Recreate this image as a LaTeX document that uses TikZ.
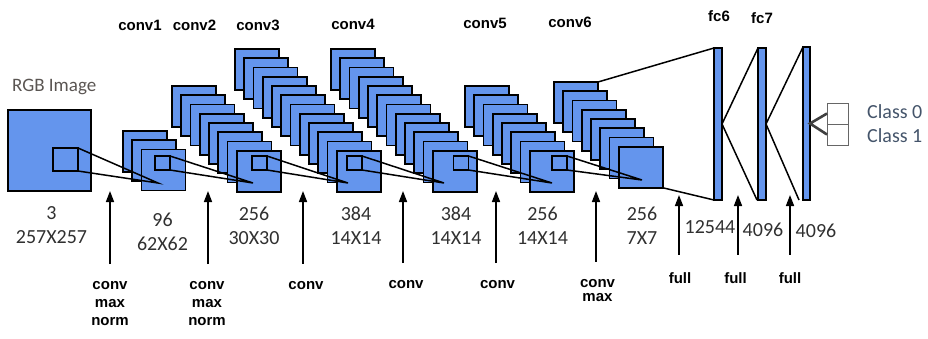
\documentclass[tikz,border=0pt]{standalone}
\usepackage{fontspec}
\newfontfamily\calfont{Carlito}
\newfontfamily\arialfont{Liberation Sans}
\usetikzlibrary{arrows.meta}
\definecolor{mapblue}{HTML}{6495ED}
\definecolor{dimgray}{HTML}{303030}
\definecolor{classblue}{HTML}{44546A}
\definecolor{rgbgray}{HTML}{5A5552}
\newcommand\headfont{\arialfont\bfseries\fontsize{15}{18}\selectfont}
\newcommand\dimfont{\calfont\fontsize{20}{24}\selectfont}

\begin{document}
\begin{tikzpicture}[
  x=1pt, y=-1pt,
  fmap/.style={draw, line width=1.8pt, fill=mapblue, minimum width=44pt, minimum height=41pt, inner sep=0pt, outer sep=0pt, anchor=north west},
  kern/.style={draw, line width=1.6pt, inner sep=0pt, outer sep=0pt},
  fcbar/.style={draw, line width=1.8pt, fill=mapblue, minimum width=8pt, minimum height=152pt, inner sep=0pt, outer sep=0pt, anchor=north west},
  cbox/.style={draw=black!60, line width=0.8pt, fill=white, minimum size=21pt, inner sep=0pt, outer sep=0pt, anchor=north west},
  link/.style={line width=1.5pt},
  lname/.style={font=\headfont, anchor=base, inner sep=0pt},
  opname/.style={font=\headfont, align=center, anchor=base, inner sep=0pt},
  dims/.style={font=\dimfont, text=dimgray, align=center, anchor=base, inner sep=0pt},
  up/.style={-{Triangle[length=11pt,width=8pt]}, line width=1.6pt, shorten <=17pt}
]
\useasboundingbox (0,0) rectangle (928,338);

% input image
\node[fmap, minimum width=83pt, minimum height=81pt] (img) at (8,110) {};
\node[font=\calfont\fontsize{19}{23}\selectfont, text=rgbgray, anchor=base west, inner sep=0pt] (rgb) at (12,91.7) {RGB Image};
\node[kern, minimum width=25pt, minimum height=23pt] (k0) at (65.5,159.5) {};

% feature map stacks
\foreach \lay/\bx/\by/\n in {conv1/123/131/3, conv2/172/86/8, conv3/235/49/12, conv4/331/49/12, conv5/465/86/8, conv6/554/82/8}
  \foreach \i in {1,...,\n}
    \node[fmap] (\lay-\i) at ({\bx+(\i-1)*9.25},{\by+(\i-1)*9.25}) {};

% kernels and their targets
\foreach \k/\cx in {1/162.5, 2/259.5, 3/354.5, 4/461, 5/559.5}
  \node[kern, minimum width=15pt, minimum height=14pt] (k\k) at (\cx,163) {};
\foreach \p/\px/\py in {1/158/183, 2/253/183, 3/348/183, 4/444/183, 5/552/183, 6/642/180}
  \coordinate (p\p) at (\px,\py);
\foreach \k [evaluate=\k as \nx using int(\k+1)] in {0,...,5}
  \draw[link] (k\k.north east) -- (p\nx) -- (k\k.south east);

% fully connected layers
\node[fcbar] (fc6) at (714,48) {};
\node[fcbar] (fc7) at (758,48) {};
\node[fcbar, minimum width=7pt, minimum height=153pt] (fc8) at (803,47) {};
\draw[link] (conv6-1.north east) -- (fc6.north west);
\draw[link] (conv6-8.south east) -- (fc6.south west);
\draw[link] (fc7.north west) -- (fc6.east) -- ([xshift=-1pt]fc7.south west);
\draw[link] (fc8.north west) -- (fc7.east) -- ([xshift=-4pt]fc8.south west);

% output classes
\node[cbox] (cls0) at (827,103) {};
\node[cbox] (cls1) at (827,124) {};
\draw[line width=2.6pt, black!75] (cls0.west) -- (fc8.east) -- (cls1.west);
\node[font=\dimfont, text=classblue, align=left, anchor=base west, inner sep=0pt] (clsname) at (867,142) {Class 0\\Class 1};

% layer names
\foreach \lay/\tx/\ty in {conv1/140/30.7, conv2/194.5/30.7, conv3/258/30, conv4/353/29.3, conv5/485/28, conv6/570/27.3, fc6/719/21.7, fc7/762/23.3}
  \node[lname] (name-\lay) at (\tx,\ty) {\lay};

% sizes
\foreach \d/\dx/\dy/\txt in {0/51.5/243.3/{3\\257X257}, 1/162.5/250.7/{96\\62X62}, 2/254/244.5/{256\\30X30}, 3/356/244.5/{384\\14X14}, 4/456/244.5/{384\\14X14}, 5/542.5/244.5/{256\\14X14}, 6/642/244.5/{256\\7X7}, 7/710/233/{12544}, 8/763/236/{4096}, 9/816/237/{4096}}
  \node[dims] (d\d) at (\dx,\dy) {\txt};

% operations
\foreach \j/\ax/\lx/\ly/\tip/\txt in {1/110/110/325.5/191/{conv\\max\\norm}, 2/208/207/325.5/191/{conv\\max\\norm}, 3/303/306/289/191/{conv}, 4/403/406/288.5/191/{conv}, 5/496/497.5/288.5/191/{conv}, 6/596/597.5/301/191/{conv\\[-4pt]max}, 7/679/680/283/195/{full}, 8/738/735.5/283/195/{full}, 9/790/790/283/195/{full}}
{
  \node[opname] (op\j) at (\lx,\ly) {\txt};
  \coordinate (t\j) at (\ax,\tip);
  \draw[up] (op\j.north -| t\j) -- (t\j);
}
\end{tikzpicture}
\end{document}
